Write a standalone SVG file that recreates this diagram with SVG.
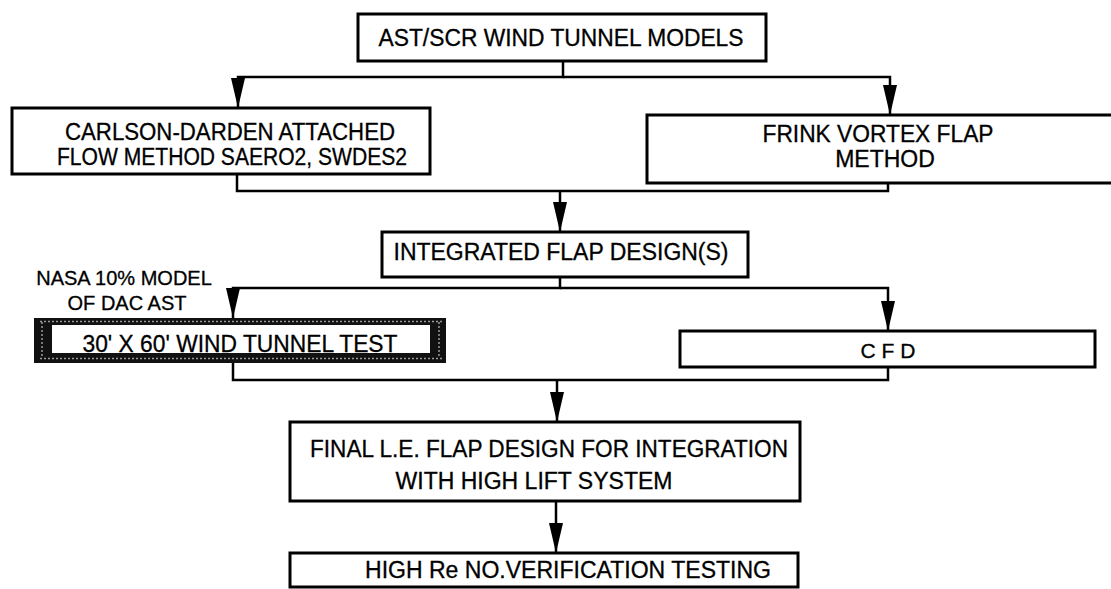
<svg xmlns="http://www.w3.org/2000/svg" width="1111" height="589" viewBox="0 0 1111 589">
<style>
  .box { fill: #fff; stroke: #000; stroke-width: 3; }
  .con { fill: none; stroke: #000; stroke-width: 2.5; }
  text { font-family: "Liberation Sans", Arial, Helvetica, sans-serif; font-size: 23px; fill: #000; stroke: #000; stroke-width: 0.3; text-anchor: middle; }
  .small { font-size: 20px; }
  .stip { fill: none; stroke: #9a9a9a; stroke-width: 1.5; stroke-dasharray: 2 2; }
</style>
<defs>
  <marker id="arr" markerUnits="userSpaceOnUse" viewBox="0 -7 30 14" refX="30" refY="0" markerWidth="30" markerHeight="14" orient="auto">
    <path d="M0,-7 L30,0 L0,7 z" fill="#000"/>
  </marker>
</defs>
<rect width="1111" height="589" fill="#fff"/>
<g id="connectors">
  <path class="con" d="M563,61 V77 H238 V108" marker-end="url(#arr)"/>
  <path class="con" d="M563,77 H890 V115" marker-end="url(#arr)"/>
  <path class="con" d="M237,174 V191 H888 V183"/>
  <path class="con" d="M560,191 V232" marker-end="url(#arr)"/>
  <path class="con" d="M560,277 V288 H233 V318" marker-end="url(#arr)"/>
  <path class="con" d="M560,288 H888 V331" marker-end="url(#arr)"/>
  <path class="con" d="M233,363 V380 H888 V367"/>
  <path class="con" d="M557,380 V422" marker-end="url(#arr)"/>
  <path class="con" d="M556,501 V553" marker-end="url(#arr)"/>
</g>
<g id="n-models">
  <rect class="box" x="358" y="14" width="408" height="47"/>
  <text x="561" y="46" textLength="365" lengthAdjust="spacingAndGlyphs">AST/SCR WIND TUNNEL MODELS</text>
</g>
<g id="n-carlson">
  <rect class="box" x="12" y="108" width="418" height="66"/>
  <text x="230" y="140" textLength="330" lengthAdjust="spacingAndGlyphs">CARLSON-DARDEN ATTACHED</text>
  <text x="232" y="165" textLength="350" lengthAdjust="spacingAndGlyphs">FLOW METHOD SAERO2, SWDES2</text>
</g>
<g id="n-frink">
  <rect class="box" x="647" y="115" width="470" height="68"/>
  <text x="878" y="142" textLength="231" lengthAdjust="spacingAndGlyphs">FRINK VORTEX FLAP</text>
  <text x="885" y="167">METHOD</text>
</g>
<g id="n-integrated">
  <rect class="box" x="382" y="232" width="366" height="45"/>
  <text x="561" y="260" textLength="335" lengthAdjust="spacingAndGlyphs">INTEGRATED FLAP DESIGN(S)</text>
</g>
<g id="n-windtunnel">
  <text class="small" x="124" y="285">NASA 10% MODEL</text>
  <text class="small" x="127" y="310">OF DAC AST</text>
  <rect x="34" y="318" width="412" height="45" fill="#111"/>
  <path class="stip" d="M40,321.5 H442 M40,358.5 H442 M42,322 V358 M439,322 V358"/>
  <rect x="52" y="325" width="378" height="28" fill="#fff"/>
  <text x="240" y="352" textLength="315" lengthAdjust="spacingAndGlyphs">30' X 60' WIND TUNNEL TEST</text>
</g>
<g id="n-cfd">
  <rect class="box" x="680" y="331" width="415" height="36"/>
  <text x="888" y="358" style="font-size:21px">C F D</text>
</g>
<g id="n-final">
  <rect class="box" x="290" y="422" width="510" height="79"/>
  <text x="549" y="457" textLength="478" lengthAdjust="spacingAndGlyphs">FINAL L.E. FLAP DESIGN FOR INTEGRATION</text>
  <text x="534" y="489">WITH HIGH LIFT SYSTEM</text>
</g>
<g id="n-highre">
  <rect class="box" x="290" y="553" width="508" height="34"/>
  <text x="568" y="578" textLength="406" lengthAdjust="spacingAndGlyphs">HIGH Re NO.VERIFICATION TESTING</text>
</g>
</svg>
